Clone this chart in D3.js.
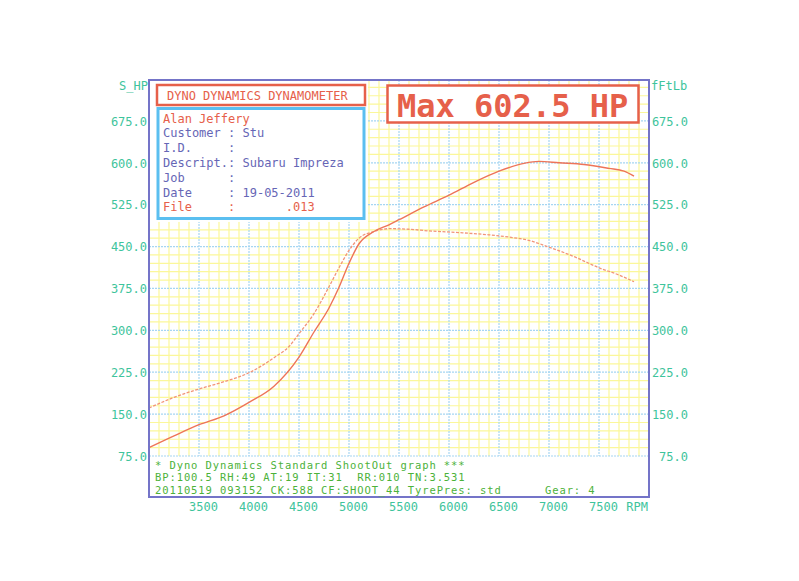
<!DOCTYPE html>
<html>
<head>
<meta charset="utf-8">
<script src="https://cdn.jsdelivr.net/npm/d3@7"></script>
<style>
  html, body { margin: 0; padding: 0; background: #ffffff; }
  svg { display: block; }
  text { font-family: "DejaVu Sans Mono", "Liberation Mono", monospace; white-space: pre; }
</style>
</head>
<body>
<svg id="chart" width="799" height="581"></svg>
<script>
// ---------------- DATA ----------------
const powerRpm = [3000, 3250, 3500, 3750, 4000, 4250, 4500, 4650, 4800, 4900, 5000, 5100, 5250, 5400, 5500, 5750, 6000, 6250, 6500, 6750, 6900, 7100, 7350, 7600, 7750, 7850];
const power    = [90, 111, 131, 147, 171, 200, 252, 297, 340, 377, 420, 455, 477, 489, 498, 521, 542, 565, 585, 599, 602.5, 600, 597, 590, 585, 576];
const torqueRpm = [3000, 3250, 3500, 3750, 4000, 4250, 4400, 4500, 4650, 4800, 4900, 5000, 5100, 5250, 5400, 5600, 5800, 6100, 6400, 6600, 6800, 7000, 7250, 7500, 7700, 7850];
const torque    = [161, 180, 195, 208, 224, 251, 271, 294, 330, 378, 412, 443, 465, 477, 482, 481, 478, 475, 471, 467, 461, 449, 432, 412, 399, 387];

const rpmTicks = [3500, 4000, 4500, 5000, 5500, 6000, 6500, 7000, 7500];
const valueTicks = [75, 150, 225, 300, 375, 450, 525, 600, 675];

const leftAxisTitle = "S_HP";
const rightAxisTitle = "fFtLb";
const xAxisTitle = "RPM";
const headerTitle = "DYNO DYNAMICS DYNAMOMETER";
const operatorName = "Alan Jeffery";
const infoLabels = ["Customer", "I.D.", "Descript.", "Job", "Date"];
const infoValues = ["Stu", "", "Subaru Impreza", "", "19-05-2011"];
const fileLabel = "File";
const fileValue = ".013";
const footerLines = [
  "* Dyno Dynamics Standard ShootOut graph ***",
  "BP:100.5 RH:49 AT:19 IT:31  RR:010 TN:3.531",
  "20110519 093152 CK:588 CF:SHOOT_44 TyrePres: std      Gear: 4"
];

// ---------------- STYLE ----------------
const C = {
  red: "#e6604a",
  curve: "#ee7458",
  curve2: "#f29478",
  teal: "#3ec49c",
  green: "#4cb23a",
  purple: "#6666b6",
  cyan: "#5bbff0",
  frame: "#7474c8",
  gridMinor: "#fbf79a",
  gridMajor: "#a6d6f2"
};

const svg = d3.select("#chart");

const x = d3.scaleLinear().domain([3000, 8000]).range([149, 649]);
const y = d3.scaleLinear().domain([75, 750]).range([456, 79]);

const plotTop = 80, plotBottom = 497;

// minor grid
const g = svg.append("g");
const minorX = d3.range(3000, 8001, 100).filter(v => v % 500 !== 0);
const minorY = d3.range(75, 751, 15).filter(v => (v - 75) % 75 !== 0);
g.selectAll(".mx").data(minorX).join("line")
  .attr("x1", d => x(d)).attr("x2", d => x(d))
  .attr("y1", plotTop).attr("y2", y(75))
  .attr("stroke", C.gridMinor).attr("stroke-width", 1.2);
g.selectAll(".my").data(minorY.filter(v => y(v) > plotTop)).join("line")
  .attr("x1", x(3000)).attr("x2", x(8000))
  .attr("y1", d => y(d)).attr("y2", d => y(d))
  .attr("stroke", C.gridMinor).attr("stroke-width", 1.2);
// major grid
const majorX = d3.range(3500, 8000, 500);
const majorY = d3.range(75, 751, 75).filter(v => y(v) > plotTop);
g.selectAll(".Mx").data(majorX).join("line")
  .attr("x1", d => x(d)).attr("x2", d => x(d))
  .attr("y1", plotTop).attr("y2", y(75))
  .attr("stroke", C.gridMajor).attr("stroke-width", 1.2).attr("stroke-dasharray", "2,1");
g.selectAll(".My").data(majorY).join("line")
  .attr("x1", x(3000)).attr("x2", x(8000))
  .attr("y1", d => y(d)).attr("y2", d => y(d))
  .attr("stroke", C.gridMajor).attr("stroke-width", 1.2).attr("stroke-dasharray", "2,1");

// white region under the header boxes
svg.append("rect").attr("x", 150).attr("y", plotTop).attr("width", 218).attr("height", 142).attr("fill", "#fff");

// curves
const lineP = d3.line().x((d, i) => x(powerRpm[i])).y(d => y(d)).curve(d3.curveMonotoneX);
const lineT = d3.line().x((d, i) => x(torqueRpm[i])).y(d => y(d)).curve(d3.curveMonotoneX);
svg.append("path").attr("d", lineT(torque)).attr("fill", "none")
  .attr("stroke", C.curve2).attr("stroke-width", 1.3).attr("stroke-dasharray", "3,1.5");
svg.append("path").attr("d", lineP(power)).attr("fill", "none")
  .attr("stroke", C.curve).attr("stroke-width", 1.4);

// footer white area
svg.append("rect").attr("x", 150).attr("y", y(75) + 1).attr("width", 498).attr("height", plotBottom - y(75) - 2).attr("fill", "#fff");

// frame
svg.append("rect").attr("x", 149).attr("y", plotTop).attr("width", 500).attr("height", plotBottom - plotTop)
  .attr("fill", "none").attr("stroke", C.frame).attr("stroke-width", 2);

// axes
const fmt = d3.format(".1f");
const yl = svg.append("g").attr("transform", "translate(148,0)")
  .call(d3.axisLeft(y).tickValues(valueTicks).tickSize(0).tickPadding(1).tickFormat(fmt));
const yr = svg.append("g").attr("transform", "translate(689,0)")
  .call(d3.axisLeft(y).tickValues(valueTicks).tickSize(0).tickPadding(1).tickFormat(fmt));
const xb = svg.append("g").attr("transform", `translate(4,${plotBottom})`)
  .call(d3.axisBottom(x).tickValues(rpmTicks).tickSize(0).tickPadding(5).tickFormat(d3.format("d")));
[yl, yr, xb].forEach(a => {
  a.select(".domain").remove();
  a.selectAll("text").attr("fill", C.teal).style("font-size", "12px").style("font-family", '"DejaVu Sans Mono", monospace');
});
yl.selectAll("text").attr("dy", "0.36em");
yr.selectAll("text").attr("dy", "0.36em");

svg.append("text").attr("x", 148).attr("y", 90).attr("text-anchor", "end")
  .attr("fill", C.teal).style("font-size", "12px").text(leftAxisTitle);
svg.append("text").attr("x", 651).attr("y", 90).attr("text-anchor", "start")
  .attr("fill", C.teal).style("font-size", "12px").text(rightAxisTitle);
svg.append("text").attr("x", 648).attr("y", 511).attr("text-anchor", "end")
  .attr("fill", C.teal).style("font-size", "12px").text(xAxisTitle);

// header title box
svg.append("rect").attr("x", 157).attr("y", 85).attr("width", 208).attr("height", 20)
  .attr("fill", "#fff").attr("stroke", C.red).attr("stroke-width", 2.5);
svg.append("text").attr("x", 167).attr("y", 100).attr("fill", C.red)
  .style("font-size", "12px").text(headerTitle);

// info box
svg.append("rect").attr("x", 158).attr("y", 108.5).attr("width", 206).attr("height", 110)
  .attr("fill", "#fff").attr("stroke", C.cyan).attr("stroke-width", 3);
const infoX = 163, infoY0 = 122.5, dyLine = 14.8;
svg.append("text").attr("x", infoX).attr("y", infoY0).attr("fill", C.red)
  .style("font-size", "12px").text(operatorName);
infoLabels.forEach((lab, i) => {
  const s = lab.padEnd(9, " ") + ": " + infoValues[i];
  svg.append("text").attr("x", infoX).attr("y", infoY0 + dyLine * (i + 1)).attr("fill", C.purple)
    .style("font-size", "12px").text(s);
});
svg.append("text").attr("x", infoX).attr("y", infoY0 + dyLine * 6).attr("fill", C.red)
  .style("font-size", "12px").text(fileLabel.padEnd(9, " ") + ":" + fileValue.padStart(11, " "));

// max box
svg.append("rect").attr("x", 387.5).attr("y", 85.5).attr("width", 251).attr("height", 37)
  .attr("fill", "#fff").attr("stroke", C.red).attr("stroke-width", 2.5);
svg.append("text").attr("x", 397).attr("y", 117).attr("fill", C.red)
  .style("font-size", "32px").style("font-weight", "bold")
  .text(`Max ${fmt(d3.max(power))} HP`);

// footer
footerLines.forEach((t, i) => {
  svg.append("text").attr("x", 155).attr("y", 468.5 + 12.5 * i).attr("fill", C.green)
    .style("font-size", "10.5px").style("letter-spacing", "0.9px").text(t);
});
</script>
</body>
</html>
